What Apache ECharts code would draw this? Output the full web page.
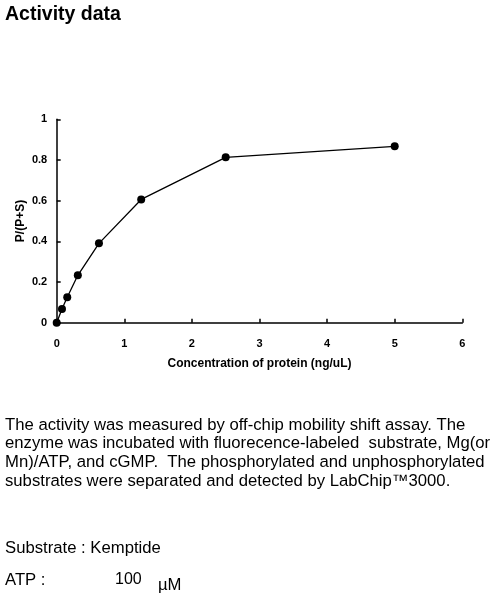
<!DOCTYPE html>
<html>
<head>
<meta charset="utf-8">
<script src="https://cdn.jsdelivr.net/npm/echarts@6/dist/echarts.min.js"></script>
<style>
  html, body { margin: 0; padding: 0; background: #fff; }
  #chart { width: 494px; height: 600px; }
</style>
</head>
<body>
<div id="chart"></div>
<script>
// protein concentration (ng/uL) vs P/(P+S)
const concentration = [0, 0.078, 0.156, 0.3125, 0.625, 1.25, 2.5, 5];
const ratio = [0, 0.067, 0.125, 0.233, 0.39, 0.606, 0.813, 0.867];

const descLines = [
  'The activity was measured by off-chip mobility shift assay. The',
  'enzyme was incubated with fluorecence-labeled  substrate, Mg(or',
  'Mn)/ATP, and cGMP.  The phosphorylated and unphosphorylated',
  'substrates were separated and detected by LabChip\u21223000.'
];

const FONT = 'Liberation Sans, Arial, sans-serif';
const BODY = '16.7px ' + FONT;
const chart = echarts.init(document.getElementById('chart'));

// 说明文字
const graphics = descLines.map((t, i) => ({
  type: 'text',
  style: { text: t, x: 5, y: 425 + i * 18.7, font: BODY, fill: '#000', verticalAlign: 'middle' }
}));
graphics.push(
  { type: 'text', style: { text: 'Substrate : Kemptide', x: 5, y: 548, font: BODY, fill: '#000', verticalAlign: 'middle' } },
  { type: 'text', style: { text: 'ATP :', x: 5, y: 580, font: BODY, fill: '#000', verticalAlign: 'middle' } },
  { type: 'text', style: { text: '100', x: 115, y: 580, font: '16px ' + FONT, fill: '#000', verticalAlign: 'middle' } },
  { type: 'text', style: { text: '\u00b5M', x: 158, y: 585, font: BODY, fill: '#000', verticalAlign: 'middle' } }
);

const axisCommon = {
  type: 'value',
  axisLine: { show: true, lineStyle: { color: '#000', width: 1.5 } },
  axisTick: { show: true, inside: true, length: 4, lineStyle: { color: '#000', width: 1.5 } },
  axisLabel: { color: '#000', fontSize: 11, fontWeight: 'bold', fontFamily: FONT },
  splitLine: { show: false },
  nameLocation: 'middle',
  nameMoveOverlap: false,
  nameTextStyle: { color: '#000', fontSize: 12, fontWeight: 'bold', fontFamily: FONT }
};

chart.setOption({
  animation: false,
  backgroundColor: '#fff',
  title: {
    text: 'Activity data',
    left: 5,
    top: 5,
    padding: 0,
    textStyle: { color: '#000', fontSize: 19.5, fontWeight: 'bold', fontFamily: FONT }
  },
  grid: { left: 56.7, right: 31.7, top: 119.3, bottom: 277.3, containLabel: false },
  xAxis: Object.assign({}, axisCommon, {
    min: 0, max: 6, interval: 1,
    name: 'Concentration of protein (ng/uL)',
    nameGap: 35,
    axisLabel: Object.assign({}, axisCommon.axisLabel, { margin: 15.5 })
  }),
  yAxis: Object.assign({}, axisCommon, {
    min: 0, max: 1, interval: 0.2,
    name: 'P/(P+S)',
    nameGap: 30,
    axisLabel: Object.assign({}, axisCommon.axisLabel, { margin: 9.5 })
  }),
  series: [{
    type: 'line',
    data: concentration.map((c, i) => [c, ratio[i]]),
    symbol: 'circle',
    symbolSize: 8,
    lineStyle: { color: '#000', width: 1.3 },
    itemStyle: { color: '#000' }
  }],
  graphic: graphics
});
</script>
</body>
</html>
